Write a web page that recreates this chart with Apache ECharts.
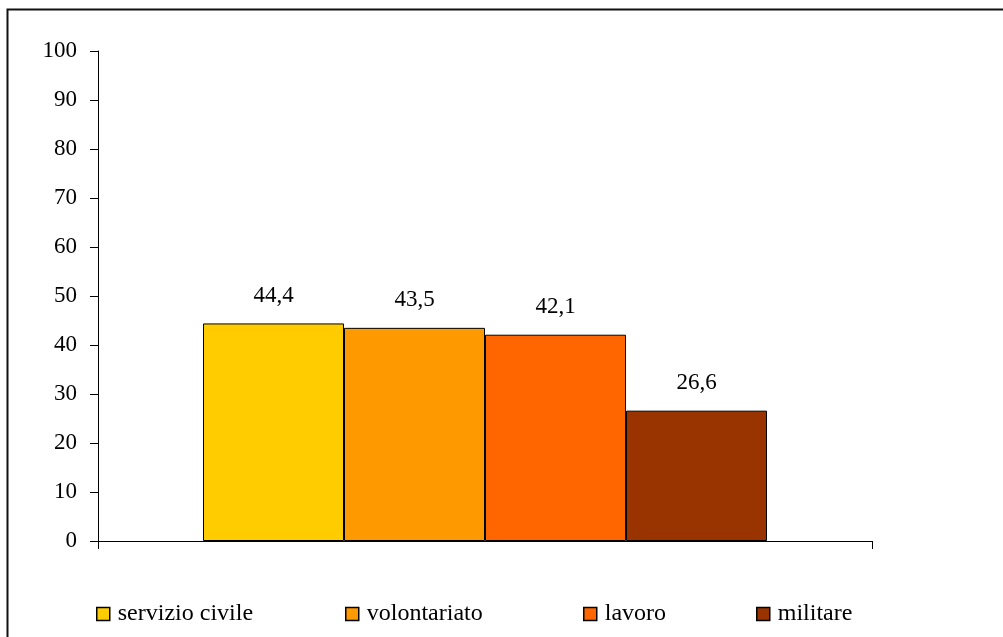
<!DOCTYPE html>
<html>
<head>
<meta charset="utf-8">
<script src="https://cdn.jsdelivr.net/npm/echarts@6/dist/echarts.min.js"></script>
<style>
  html, body { margin: 0; padding: 0; background: #fff; }
  #chart { width: 1003px; height: 637px; }
</style>
</head>
<body>
<div id="chart"></div>
<script>
// Series names, values and colours
const seriesNames = ['servizio civile', 'volontariato', 'lavoro', 'militare'];
const seriesValues = [44.4, 43.5, 42.1, 26.6];
const seriesColors = ['#FFCC00', '#FF9900', '#FF6600', '#993300'];
const categories = [''];
const yTicks = { min: 0, max: 100, interval: 10 };
// left edge of each legend entry
const legendLefts = [96, 345, 583, 756];

const FONT = "'Liberation Serif', 'Times New Roman', serif";
const fmt = v => String(v).replace('.', ',');

const chart = echarts.init(document.getElementById('chart'), null, { renderer: 'canvas' });

const series = seriesNames.map((name, i) => ({
  name,
  type: 'bar',
  data: [seriesValues[i]],
  barWidth: 141,
  barGap: '0%',
  itemStyle: { color: seriesColors[i], borderColor: '#000', borderWidth: 1 },
  label: {
    show: true,
    position: 'top',
    distance: 16,
    formatter: p => fmt(p.value),
    color: '#000',
    fontFamily: FONT,
    fontSize: 23
  }
}));

const legends = seriesNames.map((name, i) => ({
  data: [name],
  left: legendLefts[i],
  top: 602,
  padding: 0,
  itemWidth: 13,
  itemHeight: 13,
  icon: 'rect',
  itemStyle: { borderColor: '#000', borderWidth: 1.5 },
  textStyle: { fontFamily: FONT, fontSize: 24, color: '#000', padding: [0, 0, 0, 3] }
}));

chart.setOption({
  animation: false,
  backgroundColor: '#fff',
  graphic: [{
    type: 'rect',
    shape: { x: 7.5, y: 9.5, width: 1010, height: 650 },
    style: { fill: 'none', stroke: '#111', lineWidth: 2 },
    silent: true
  }],
  grid: { left: 98, right: 131, top: 51, bottom: 96 },
  legend: legends,
  xAxis: {
    type: 'category',
    data: categories,
    boundaryGap: true,
    axisLine: { lineStyle: { color: '#000', width: 1 } },
    axisTick: { show: true, length: 8, inside: false, lineStyle: { color: '#000' } },
    axisLabel: { show: false }
  },
  yAxis: {
    type: 'value',
    min: yTicks.min,
    max: yTicks.max,
    interval: yTicks.interval,
    axisLine: { show: true, lineStyle: { color: '#000', width: 1 } },
    axisTick: { show: true, length: 8, lineStyle: { color: '#000' } },
    splitLine: { show: false },
    axisLabel: { color: '#000', fontFamily: FONT, fontSize: 23, margin: 21 }
  },
  series
});
</script>
</body>
</html>
